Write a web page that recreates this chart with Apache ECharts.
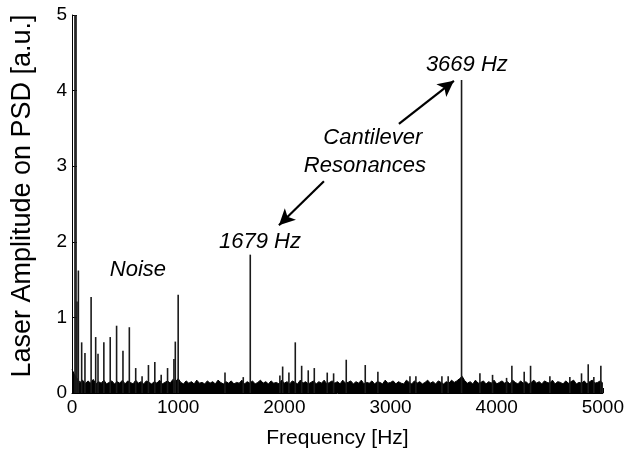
<!DOCTYPE html>
<html>
<head>
<meta charset="utf-8">
<script src="https://cdn.jsdelivr.net/npm/echarts@6/dist/echarts.min.js"></script>
<style>
  html, body { margin: 0; padding: 0; background: #fff; }
  #chart { width: 627px; height: 460px; }
</style>
</head>
<body>
<div id="chart"></div>
<script>
// Power spectral density of the laser deflection signal

// Broadband noise floor, sampled every 25 Hz from 0 to 5000 Hz
const noiseStep = 25;
const noiseLevel = [
  0.31, 0.24, 0.19, 0.14, 0.17, 0.12, 0.16, 0.13, 0.18, 0.12, 0.15, 0.13, 0.17, 0.12, 0.14, 0.16, 0.12, 0.15, 0.13, 0.17,
  0.12, 0.16, 0.14, 0.12, 0.17, 0.13, 0.15, 0.12, 0.16, 0.14, 0.12, 0.15, 0.13, 0.17, 0.12, 0.14, 0.16, 0.13, 0.18, 0.15,
  0.19, 0.14, 0.12, 0.16, 0.13, 0.15, 0.12, 0.17, 0.13, 0.14, 0.12, 0.16, 0.13, 0.15, 0.12, 0.17, 0.14, 0.12, 0.15, 0.13,
  0.16, 0.12, 0.14, 0.13, 0.17, 0.12, 0.15, 0.13, 0.16, 0.12, 0.14, 0.17, 0.13, 0.15, 0.12, 0.16, 0.13, 0.14, 0.12, 0.17,
  0.13, 0.15, 0.12, 0.16, 0.14, 0.12, 0.17, 0.13, 0.15, 0.12, 0.14, 0.16, 0.12, 0.15, 0.13, 0.17, 0.12, 0.14, 0.16, 0.13,
  0.15, 0.12, 0.17, 0.13, 0.14, 0.16, 0.12, 0.15, 0.13, 0.17, 0.12, 0.14, 0.13, 0.16, 0.12, 0.15, 0.14, 0.12, 0.17, 0.13,
  0.14, 0.16, 0.12, 0.15, 0.13, 0.12, 0.17, 0.14, 0.12, 0.16, 0.13, 0.15, 0.12, 0.14, 0.17, 0.13, 0.15, 0.12, 0.16, 0.14,
  0.12, 0.15, 0.13, 0.17, 0.14, 0.16, 0.19, 0.22, 0.16, 0.13, 0.15, 0.12, 0.17, 0.13, 0.14, 0.16, 0.12, 0.15, 0.13, 0.17,
  0.12, 0.14, 0.16, 0.13, 0.15, 0.12, 0.17, 0.14, 0.12, 0.16, 0.13, 0.15, 0.12, 0.14, 0.17, 0.13, 0.15, 0.12, 0.16, 0.14,
  0.13, 0.17, 0.12, 0.15, 0.14, 0.12, 0.16, 0.13, 0.15, 0.17, 0.12, 0.14, 0.13, 0.16, 0.12, 0.15, 0.17, 0.13, 0.14, 0.16,
  0.13
];

// Discrete spectral lines: frequency [Hz] and amplitude [a.u.]
const peakFreq = [
  28, 38, 47, 60, 91, 122, 180, 223, 245, 300, 360, 420, 480, 540, 600,
  660, 720, 780, 840, 900, 960, 973, 1000,
  1441, 1613, 1679, 1958, 1984, 2043, 2103, 2163, 2225, 2282, 2404, 2464,
  2583, 2762, 2881, 3183, 3239, 3484, 3543, 3669, 3842, 3961, 4093, 4143,
  4259, 4319, 4501, 4689, 4799, 4862, 4915, 4981
];
const peakAmp = [
  5.2, 5.2, 1.21, 1.62, 0.67, 0.53, 1.27, 0.74, 0.52, 0.67, 0.74, 0.89, 0.56, 0.87, 0.33,
  0.22, 0.37, 0.41, 0.24, 0.33, 0.45, 0.68, 1.30,
  0.27, 0.21, 1.83, 0.23, 0.35, 0.27, 0.67, 0.36, 0.30, 0.33, 0.27, 0.26,
  0.44, 0.37, 0.28, 0.22, 0.22, 0.22, 0.22, 4.14, 0.26, 0.24, 0.20, 0.36,
  0.28, 0.36, 0.22, 0.21, 0.26, 0.38, 0.21, 0.36
];

// Axis ticks
const xTicks = [0, 1000, 2000, 3000, 4000, 5000];
const yTicks = [0, 1, 2, 3, 4, 5];

// Text notes, placed in data coordinates [Hz, a.u.]
const notes = [
  { text: '3669 Hz',    at: [3719, 4.34] },
  { text: 'Cantilever', at: [2834, 3.37] },
  { text: 'Resonances', at: [2759, 3.00] },
  { text: '1679 Hz',    at: [1770, 2.00] },
  { text: 'Noise',      at: [621, 1.63] }
];

// Arrows from the resonance note towards each peak label
const arrows = [
  { from: [3079, 3.56], to: [3597, 4.13] },
  { from: [2373, 2.80], to: [1949, 2.22] }
];

const FONT = "'Liberation Sans', Arial, Helvetica, sans-serif";

const noiseData = noiseLevel.map((v, i) => [i * noiseStep, v]);
const peakData = peakFreq.map((f, i) => [f, peakAmp[i]]);

const chart = echarts.init(document.getElementById('chart'), null, { renderer: 'canvas' });

chart.setOption({
  animation: false,
  backgroundColor: '#ffffff',
  grid: { left: 72, right: 24, top: 15, bottom: 67, containLabel: false },
  xAxis: {
    type: 'value',
    min: xTicks[0],
    max: xTicks[xTicks.length - 1],
    interval: xTicks[1] - xTicks[0],
    name: 'Frequency [Hz]',
    nameLocation: 'middle',
    nameGap: 35,
    nameTextStyle: { fontFamily: FONT, fontSize: 21, color: '#000' },
    axisLine: { show: true, onZero: false, lineStyle: { color: '#000', width: 1 } },
    axisTick: { show: true, inside: true, length: 5, lineStyle: { color: '#000' } },
    axisLabel: { fontFamily: FONT, fontSize: 19, color: '#000', margin: 5, formatter: v => String(v) },
    splitLine: { show: false }
  },
  yAxis: {
    type: 'value',
    min: yTicks[0],
    max: yTicks[yTicks.length - 1],
    interval: yTicks[1] - yTicks[0],
    name: 'Laser Amplitude on PSD [a.u.]',
    nameLocation: 'middle',
    nameGap: 36,
    nameTextStyle: { fontFamily: FONT, fontSize: 27, color: '#000', padding: [0, 0, 0, 16] },
    axisLine: { show: true, lineStyle: { color: '#000', width: 1 } },
    axisTick: { show: true, inside: true, length: 5, lineStyle: { color: '#000' } },
    axisLabel: { fontFamily: FONT, fontSize: 19, color: '#000', margin: 5 },
    splitLine: { show: false }
  },
  series: [
    {
      name: 'noise floor',
      type: 'line',
      data: noiseData,
      symbol: 'none',
      lineStyle: { color: '#000', width: 1 },
      areaStyle: { color: '#000', opacity: 1 },
      z: 2
    },
    {
      name: 'spectral lines',
      type: 'bar',
      data: peakData,
      barWidth: 1.6,
      itemStyle: { color: '#1a1a1a' },
      clip: true,
      z: 3,
      markLine: {
        silent: true,
        symbol: ['none', 'arrow'],
        symbolSize: [12, 16],
        label: { show: false },
        lineStyle: { color: '#000', width: 2.2, type: 'solid', opacity: 1 },
        data: arrows.map(a => [{ coord: a.from }, { coord: a.to }])
      }
    },
    {
      name: 'notes',
      type: 'scatter',
      symbolSize: 0,
      itemStyle: { opacity: 1, color: '#000' },
      data: notes.map(n => ({ value: n.at, name: n.text })),
      label: {
        show: true,
        position: 'inside',
        formatter: p => p.name,
        fontFamily: FONT,
        fontStyle: 'italic',
        fontSize: 22,
        color: '#000',
        opacity: 1,
        textBorderWidth: 0
      },
      z: 5
    }
  ]
});
</script>
</body>
</html>
